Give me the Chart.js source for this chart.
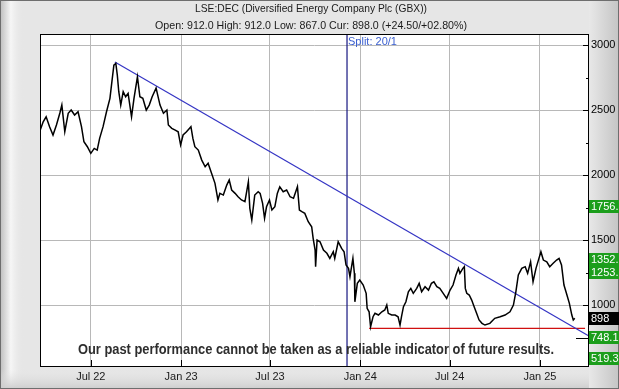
<!DOCTYPE html>
<html>
<head>
<meta charset="utf-8">
<script src="https://cdn.jsdelivr.net/npm/chart.js@4.4.1/dist/chart.umd.min.js"></script>
<style>
  html, body { margin: 0; padding: 0; background: #e6e6e6; }
  canvas { display: block; }
</style>
</head>
<body>
<canvas id="chart" width="619" height="389"></canvas>
<script>
// Daily close in GBX, x = days since 1 Jul 2022
const dayOffsets = [
  -103, -97, -91, -84, -77, -70, -63, -59, -53, -46, -40, -33, -26, -19, -14, -7,
  0, 7, 13, 18, 25, 32, 39, 43, 47, 51, 54, 57, 61, 66, 71, 76, 83, 88, 95, 100,
  106, 113, 119, 125, 133, 141, 148, 155, 158, 165, 172, 178, 183, 188, 195, 204,
  208, 212, 219, 226, 233, 239, 246, 253, 259, 263, 270, 277, 282, 287, 294, 300,
  307, 314, 321, 324, 328, 334, 341, 345, 350, 354, 358, 364, 369, 375, 380, 385,
  392, 399, 406, 413, 421, 425, 430, 436, 443, 450, 453, 457, 458, 461, 467, 474,
  481, 487, 494, 497, 504, 511, 516, 520, 525, 528, 534, 537, 538, 543, 548, 555,
  561, 563, 567, 570, 575, 579, 586, 593, 599, 603, 606, 613, 620, 626, 630, 633,
  637, 642, 647, 652, 657, 664, 669, 674, 681, 688, 694, 699, 705, 711, 718, 725,
  732, 738, 744, 749, 752, 758, 761, 763, 766, 771, 776, 781, 786, 791, 797, 803,
  813, 823, 834, 844, 854, 861, 866, 871, 878, 885, 890, 896, 901, 907, 913, 917,
  922, 929, 935, 942, 949, 954, 959, 964, 969, 975, 980, 983, 986
]
const closes = [
  2346, 2410, 2448, 2372, 2308, 2385, 2477, 2538, 2333, 2475, 2500, 2462, 2487, 2372, 2256, 2218,
  2167, 2205, 2192, 2282, 2372, 2487, 2590, 2718, 2846, 2859, 2769, 2641, 2538, 2641, 2602, 2628, 2448, 2590, 2756, 2602,
  2590, 2500, 2538, 2602, 2669, 2538, 2475, 2500, 2385, 2359, 2346, 2333, 2231, 2308, 2333, 2372,
  2282, 2218, 2192, 2115, 2064, 2090, 2013, 1936, 1808, 1859, 1846, 1923, 1962, 1885, 1859, 1833,
  1808, 1795, 1948, 1744, 1654, 1846, 1872, 1859, 1782, 1667, 1756, 1808, 1731, 1756, 1859, 1910,
  1872, 1885, 1833, 1821, 1910, 1731, 1718, 1705, 1641, 1602, 1513, 1423, 1295, 1500, 1487, 1423,
  1398, 1359, 1410, 1359, 1487, 1436, 1410, 1308, 1282, 1218, 1359, 1244, 1025, 1167, 1192, 1154,
  1090, 975, 948, 833, 910, 936, 923, 948, 962, 1000, 936, 923, 923, 910, 846, 910,
  987, 1025, 1102, 1128, 1090, 1128, 1167, 1102, 1141, 1115, 1167, 1179, 1141, 1128, 1090, 1051,
  1115, 1154, 1231, 1282, 1244, 1282, 1295, 1128, 1090, 1077, 1038, 987, 936, 885, 859, 846,
  859, 898, 910, 923, 948, 1000, 1102, 1231, 1282, 1295, 1244, 1333, 1179, 1282, 1359, 1410,
  1346, 1333, 1295, 1321, 1346, 1359, 1308, 1154, 1090, 1013, 923, 885, 898
]

const tickDays = [0, 184, 365, 549, 731, 915]
const tickLabels = ["Jul 22", "Jan 23", "Jul 23", "Jan 24", "Jul 24", "Jan 25"]
const priceTicks = [1000, 1500, 2000, 2500, 3000]

const trendDays = [49, 1013]
const trendValues = [2869, 765]
const supportDays = [567, 1007]
const supportValues = [820, 820]
const splitDay = 522
const splitLabel = "Split: 20/1"

const targetValues = [1756, 1352, 1253, 748.1, 519.3]
const targetLabels = ["1756.", "1352.", "1253.", "748.1", "519.3"]
const currentValue = 898
const currentLabel = "898"

const titleText = "LSE:DEC (Diversified Energy Company Plc (GBX))"
const subtitleText = "Open: 912.0 High: 912.0 Low: 867.0 Cur: 898.0 (+24.50/+02.80%)"
const disclaimer = "Our past performance cannot be taken as a reliable indicator of future results."

const Y_MIN = 531, Y_MAX = 3085
const X_MIN = -103.5, X_MAX = 1015
const FONT = "'Liberation Sans', Arial, sans-serif"

const pts = (xs, ys) => xs.map((x, i) => ({ x, y: ys[i] }))

// frame, inner tick marks, label boxes and the overlay texts
const decor = {
  id: "decor",
  beforeDraw(chart) {
    const { ctx, width, height, chartArea: a } = chart
    ctx.save()
    ctx.fillStyle = "#e6e6e6"
    ctx.fillRect(0, 0, width, height)
    let g = ctx.createLinearGradient(0, 0, 24, 0)
    g.addColorStop(0, "#bdbdbd"); g.addColorStop(0.45, "#f6f6f6"); g.addColorStop(1, "rgba(230,230,230,0)")
    ctx.fillStyle = g; ctx.fillRect(0, 0, 24, height)
    g = ctx.createLinearGradient(0, height - 20, 0, height)
    g.addColorStop(0, "rgba(230,230,230,0)"); g.addColorStop(1, "#cdcdcd")
    ctx.fillStyle = g; ctx.fillRect(0, height - 20, width, 20)
    g = ctx.createLinearGradient(a.right, 0, width, 0)
    g.addColorStop(0, "#e8e8e8"); g.addColorStop(1, "#c4c4c4")
    ctx.fillStyle = g; ctx.fillRect(a.right, 0, width - a.right, height)
    ctx.strokeStyle = "#6e6e6e"; ctx.lineWidth = 1
    ctx.strokeRect(0.5, 0.5, width - 1, height - 1)
    ctx.fillStyle = "#fff"
    ctx.fillRect(a.left, a.top, a.right - a.left, a.bottom - a.top)
    ctx.restore()
  },
  afterDatasetsDraw(chart) {
    const { ctx, chartArea: a, scales: { x, y } } = chart
    ctx.save()
    ctx.strokeStyle = "#000"; ctx.lineWidth = 1
    ctx.beginPath()
    priceTicks.forEach((v) => {
      const py = Math.round(y.getPixelForValue(v)) + 0.5
      ctx.moveTo(a.right - 6, py); ctx.lineTo(a.right, py)
      const mid = Math.round(y.getPixelForValue(v - 250)) + 0.5
      ctx.moveTo(a.right - 3, mid); ctx.lineTo(a.right, mid)
    })
    tickDays.forEach((d) => {
      const px = Math.round(x.getPixelForValue(d)) + 0.5
      ctx.moveTo(px, a.bottom - 6); ctx.lineTo(px, a.bottom)
    })
    const tp = Math.round(y.getPixelForValue(targetValues[3])) + 0.5
    ctx.moveTo(a.right - 13, tp); ctx.lineTo(a.right, tp)
    ctx.stroke()
    ctx.strokeRect(a.left + 0.5, a.top + 0.5, a.right - a.left - 1, a.bottom - a.top)

    ctx.fillStyle = "#3a5fd0"
    ctx.font = "11px " + FONT
    ctx.textBaseline = "middle"
    ctx.fillText(splitLabel, x.getPixelForValue(splitDay) + 1, a.top + 8)

    ctx.fillStyle = "#2e2e2e"
    ctx.font = "bold 14px " + FONT
    ctx.textAlign = "center"
    ctx.fillText(disclaimer, 316, 350, 476)
    ctx.restore()
  },
  afterDraw(chart) {
    const { ctx, width, chartArea: a, scales: { y } } = chart
    ctx.save()
    ctx.font = "11px " + FONT
    ctx.textBaseline = "middle"
    const box = (v, label, bg) => {
      const cy = Math.min(y.getPixelForValue(v), a.bottom - 8)
      ctx.fillStyle = bg
      ctx.fillRect(a.right, Math.round(cy - 6.5), width - a.right, 13)
      ctx.fillStyle = "#fff"
      ctx.fillText(label, a.right + 2, cy + 0.5)
    }
    targetValues.forEach((v, i) => box(v, targetLabels[i], "#1c9e1c"))
    box(currentValue, currentLabel, "#000")

    ctx.fillStyle = "#1a1a1a"
    ctx.textAlign = "center"
    ctx.fillText(titleText, 311, 9, 232)
    ctx.fillText(subtitleText, 311, 26, 312)
    ctx.restore()
  }
}

new Chart(document.getElementById("chart"), {
  type: "line",
  data: {
    datasets: [
      { data: pts(dayOffsets, closes), borderColor: "#000", borderWidth: 1.5 },
      { data: pts(trendDays, trendValues), borderColor: "#3434c4", borderWidth: 1.2 },
      { data: pts(supportDays, supportValues), borderColor: "#d01010", borderWidth: 1.2 },
      { data: pts([splitDay, splitDay], [Y_MIN, Y_MAX]), borderColor: "#161680", borderWidth: 1.2 },
    ],
  },
  options: {
    responsive: false,
    animation: false,
    devicePixelRatio: 1,
    elements: { point: { radius: 0 }, line: { tension: 0 } },
    layout: { padding: { left: 40, top: 34, right: 0, bottom: 0 } },
    plugins: { legend: { display: false }, tooltip: { enabled: false } },
    scales: {
      x: {
        type: "linear",
        min: X_MIN,
        max: X_MAX,
        afterBuildTicks: (s) => { s.ticks = tickDays.map((v) => ({ value: v })) },
        afterFit: (s) => { s.height = 23 },
        ticks: {
          autoSkip: false, maxRotation: 0, padding: 4, color: "#1a1a1a",
          font: { family: FONT, size: 11 },
          callback: (v) => tickLabels[tickDays.indexOf(v)] ?? "",
        },
        grid: { color: "#b8b8b8", drawTicks: false },
        border: { display: false },
      },
      y: {
        position: "right",
        min: Y_MIN,
        max: Y_MAX,
        afterBuildTicks: (s) => { s.ticks = priceTicks.map((v) => ({ value: v })) },
        afterFit: (s) => { s.width = 30 },
        ticks: {
          padding: 2, color: "#000", font: { family: FONT, size: 11 },
          callback: (v) => String(v),
        },
        grid: { color: "#b8b8b8", drawTicks: false },
        border: { display: false },
      },
    },
  },
  plugins: [decor],
})
</script>
</body>
</html>
